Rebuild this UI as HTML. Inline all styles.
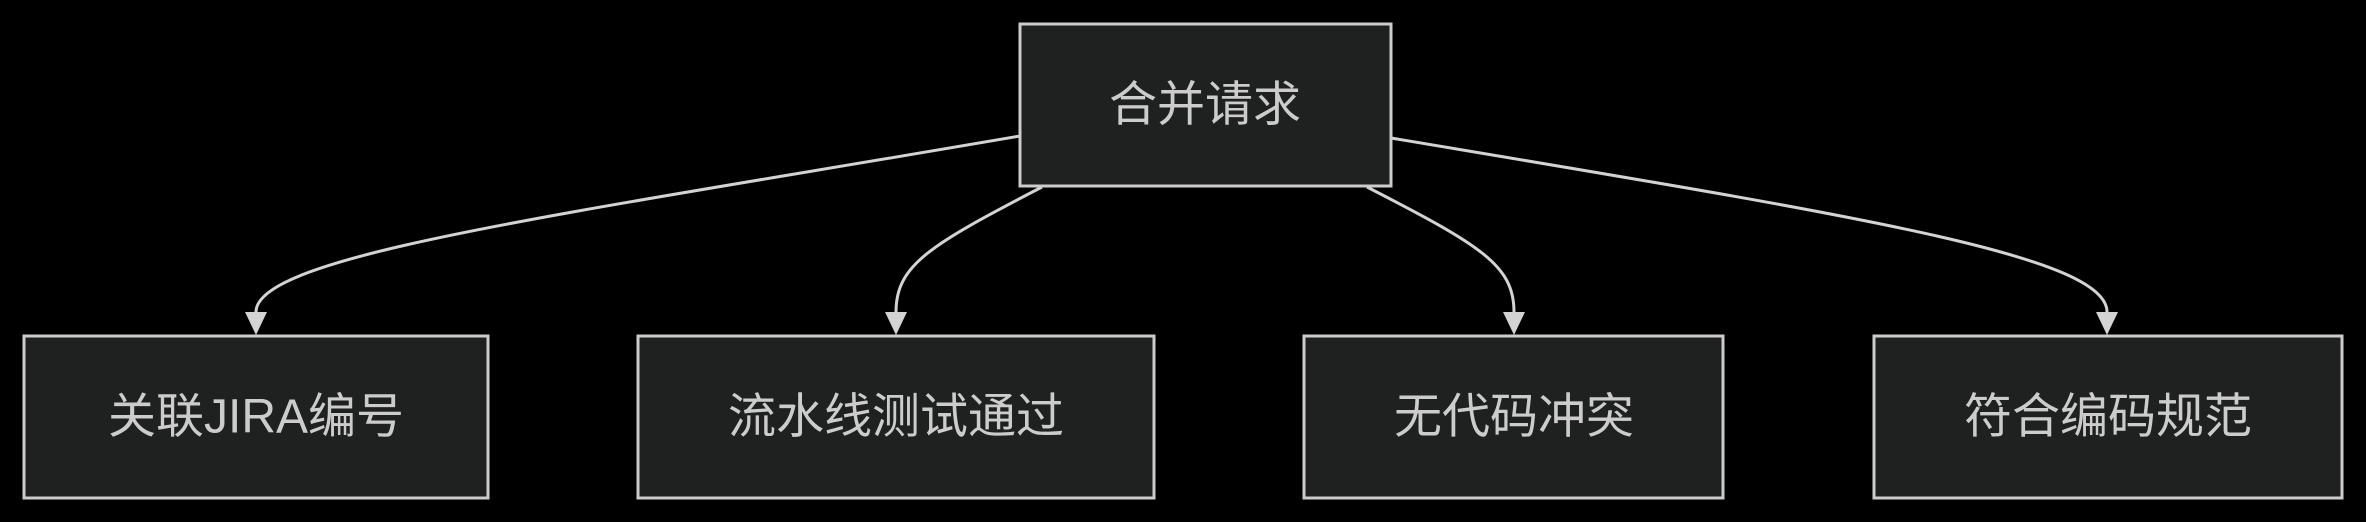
<!DOCTYPE html>
<html><head><meta charset="utf-8"><style>
html,body{margin:0;padding:0;background:#000;}
svg{display:block}
text{font-family:"Liberation Sans","Noto Sans CJK SC",sans-serif;font-size:48px;fill:#ccc;}
</style></head><body>
<svg width="2366" height="522" viewBox="0 0 2366 522" xmlns="http://www.w3.org/2000/svg">
<rect width="2366" height="522" fill="#000"/>
<g fill="none" stroke="#d3d3d3" stroke-width="3">
<path d="M1020,136 C560,215 256,255 256,312"/>
<path d="M1042,187 C930,245 896,265 896,312"/>
<path d="M1367,187 C1480,245 1514,265 1514,312"/>
<path d="M1391,138 C1850,215 2107,255 2107,312"/>
</g>
<g fill="#d3d3d3">
<polygon points="245,312 267,312 256,335"/>
<polygon points="885,312 907,312 896,335"/>
<polygon points="1503,312 1525,312 1514,335"/>
<polygon points="2096,312 2118,312 2107,335"/>
</g>
<g fill="#1f2020" stroke="#cccccc" stroke-width="3">
<rect x="1020" y="24" width="371" height="162"/>
<rect x="24" y="336" width="464" height="162"/>
<rect x="638" y="336" width="516" height="162"/>
<rect x="1304" y="336" width="419" height="162"/>
<rect x="1874" y="336" width="468" height="162"/>
</g>
<g text-anchor="middle" dominant-baseline="central">
<text x="1205" y="105">合并请求</text>
<text x="256" y="417">关联JIRA编号</text>
<text x="896" y="417">流水线测试通过</text>
<text x="1514" y="417">无代码冲突</text>
<text x="2108" y="417">符合编码规范</text>
</g>
</svg>
</body></html>
